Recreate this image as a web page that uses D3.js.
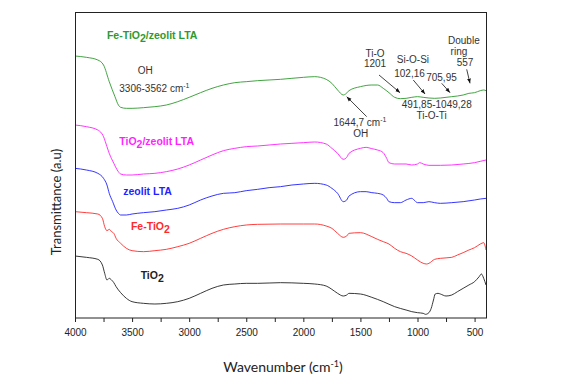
<!DOCTYPE html>
<html>
<head>
<meta charset="utf-8">
<script src="https://cdn.jsdelivr.net/npm/d3@7"></script>
<style>
body { margin: 0; background: #fff; }
svg { display: block; }
</style>
</head>
<body>
<svg></svg>
<script>
// spectra: [wavenumber (cm-1), transmittance (a.u.)]
var feTiO2Zeolit = [[4000,79.2],[3900,78.8],[3800,78.0],[3750,76.5],[3700,71.5],[3650,67.0],[3620,64.5],[3600,63.8],[3550,63.5],[3500,63.5],[3400,63.7],[3300,64.0],[3200,64.5],[3100,65.5],[3000,66.8],[2900,68.2],[2800,69.5],[2700,70.5],[2600,71.2],[2500,71.5],[2400,71.8],[2200,72.2],[2000,72.8],[1900,73.0],[1800,72.2],[1750,71.0],[1700,69.0],[1650,67.5],[1630,67.8],[1600,68.8],[1500,70.0],[1400,70.5],[1350,70.5],[1300,69.5],[1250,68.2],[1200,66.8],[1150,66.4],[1100,66.5],[1050,66.8],[1000,67.0],[950,66.8],[900,66.6],[850,66.5],[800,66.6],[750,66.8],[700,67.0],[650,67.2],[600,67.5],[550,68.0],[500,68.2],[450,68.8],[420,69.0],[400,68.8]];
var tiO2Zeolit = [[4000,58.5],[3900,58.0],[3800,57.0],[3750,55.0],[3720,52.0],[3700,50.0],[3660,47.0],[3630,45.0],[3600,43.8],[3550,43.5],[3500,43.5],[3400,43.8],[3300,44.0],[3200,44.5],[3100,45.3],[3000,46.5],[2900,48.0],[2800,49.5],[2700,50.8],[2600,51.5],[2500,52.0],[2400,52.2],[2300,52.5],[2200,52.8],[2100,53.0],[2000,53.2],[1900,53.4],[1800,52.8],[1750,51.5],[1700,50.0],[1650,48.2],[1620,48.8],[1600,50.0],[1500,51.5],[1450,51.8],[1400,51.4],[1350,51.0],[1300,50.2],[1270,48.5],[1250,47.2],[1200,46.8],[1100,46.8],[1050,46.5],[1000,46.8],[980,47.2],[950,46.8],[900,46.4],[800,46.4],[700,46.5],[600,46.8],[500,47.2],[450,47.6],[400,48.0]];
var zeolitLTA = [[4000,45.5],[3900,45.0],[3800,44.0],[3750,42.5],[3720,40.5],[3700,38.0],[3670,35.5],[3640,33.0],[3620,32.0],[3600,31.5],[3550,31.5],[3500,31.8],[3400,32.2],[3300,32.5],[3200,33.0],[3100,33.5],[3000,34.5],[2900,36.0],[2800,37.2],[2700,38.0],[2600,38.2],[2500,38.8],[2400,39.2],[2300,39.7],[2200,40.0],[2100,40.5],[2000,40.8],[1900,41.0],[1800,40.5],[1750,39.5],[1700,38.0],[1650,35.5],[1620,36.0],[1600,37.2],[1500,38.5],[1450,38.5],[1400,38.2],[1350,38.0],[1300,37.5],[1270,36.5],[1250,35.5],[1200,35.2],[1150,35.2],[1100,36.0],[1050,36.5],[1030,36.0],[1000,35.2],[950,35.2],[900,35.5],[850,35.2],[800,35.0],[700,35.2],[600,35.5],[500,36.0],[450,36.3],[400,36.5]];
var feTiO2 = [[4000,32.5],[3900,32.2],[3800,31.8],[3760,30.5],[3740,28.0],[3720,26.8],[3700,27.2],[3680,26.5],[3660,26.0],[3640,24.5],[3600,23.0],[3550,21.5],[3500,20.8],[3400,20.5],[3300,20.8],[3200,21.2],[3100,22.0],[3000,23.0],[2900,24.5],[2800,26.0],[2700,27.2],[2600,28.0],[2500,28.5],[2400,28.7],[2200,28.8],[2000,28.8],[1900,28.8],[1800,28.2],[1750,27.5],[1700,26.0],[1650,24.8],[1620,25.2],[1600,26.0],[1500,26.2],[1400,25.0],[1350,24.2],[1300,23.5],[1250,22.8],[1200,21.5],[1150,20.5],[1100,20.0],[1050,19.2],[1000,18.0],[950,17.0],[920,16.8],[900,17.0],[850,18.2],[800,18.5],[700,18.8],[650,19.5],[600,20.2],[550,21.0],[500,21.7],[450,22.8],[420,23.2],[400,21.0]];
var tiO2 = [[4000,19.2],[3900,18.8],[3800,18.2],[3760,16.5],[3740,14.0],[3720,12.0],[3700,12.5],[3680,12.0],[3660,11.2],[3640,10.0],[3600,8.2],[3550,6.5],[3500,5.5],[3400,5.0],[3300,4.8],[3200,5.0],[3100,5.5],[3000,6.5],[2900,8.0],[2800,9.5],[2700,10.5],[2600,10.8],[2500,11.0],[2400,11.0],[2200,11.2],[2000,11.0],[1900,10.8],[1800,10.2],[1750,9.2],[1700,8.0],[1650,7.2],[1620,7.5],[1600,8.0],[1500,7.8],[1400,6.8],[1300,5.5],[1200,4.0],[1100,3.0],[1050,2.5],[1000,2.2],[950,2.0],[930,1.7],[900,2.2],[880,3.5],[860,6.0],[845,7.8],[820,8.0],[800,7.8],[750,7.2],[700,7.5],[650,8.5],[600,9.5],[550,10.5],[500,11.5],[460,13.0],[440,13.8],[420,12.5],[400,10.5]];

var seriesNames = ["Fe-TiO2/zeolit LTA", "TiO2/zeolit LTA", "zeolit LTA", "Fe-TiO2", "TiO2"];
var seriesColors = ["#2e9a2e", "#ff1fff", "#1f1fff", "#ff2a2a", "#222222"];
// label anchor for each series, in [wavenumber, transmittance]
var seriesLabelAt = [[3720,84.3],[3612,52.5],[3577,37.5],[3510,27.0],[3425,12.2]];

var xTicks = d3.range(4000, 399, -250);

// band annotations: text lines at [wavenumber, transmittance]
var notes = [
	{t: "OH", at: [3384,73.8], anchor: "middle"},
	{t: "3306-3562 cm", sup: "-1", at: [3612,68.5], anchor: "start"},
	{t: "Ti-O", at: [1372,79.0], anchor: "middle"},
	{t: "1201", at: [1372,76.0], anchor: "middle"},
	{t: "Si-O-Si", at: [1040,77.0], anchor: "middle"},
	{t: "102,16", at: [1070,73.0], anchor: "middle"},
	{t: "705,95", at: [790,71.8], anchor: "middle"},
	{t: "Double", at: [594,82.8], anchor: "middle"},
	{t: "ring", at: [637,79.4], anchor: "middle"},
	{t: "557", at: [584,76.2], anchor: "middle"},
	{t: "491,85-1049,28", at: [832,63.5], anchor: "middle"},
	{t: "Ti-O-Ti", at: [876,60.2], anchor: "middle"},
	{t: "1644,7 cm", sup: "-1", at: [1504,58.2], anchor: "middle"},
	{t: "OH", at: [1498,54.8], anchor: "middle"}
];
// arrows: tail -> tip
var arrows = [
	[[1445,61.0],[1620,67.0]],
	[[1337,73.5],[1153,68.2]],
	[[1037,72.0],[934,67.8]],
	[[788,71.0],[715,68.2]],
	[[569,75.2],[540,71.0]]
];

var width = 581, height = 383;
var svg = d3.select("svg").attr("width", width).attr("height", height);

var x = d3.scaleLinear().domain([4000, 400]).range([75, 486]);
var y = d3.scaleLinear().domain([0.6, 92.1]).range([318, 13]);

var line = d3.line()
	.x(function(d){ return x(d[0]); })
	.y(function(d){ return y(d[1]); })
	.curve(d3.curveMonotoneX);

var allSeries = [feTiO2Zeolit, tiO2Zeolit, zeolitLTA, feTiO2, tiO2];

svg.selectAll("path.spec").data(allSeries).enter()
	.append("path")
	.attr("class", "spec")
	.attr("d", line)
	.attr("fill", "none")
	.attr("stroke", function(d, i){ return seriesColors[i]; })
	.attr("stroke-width", 0.9);

// frame
svg.append("rect")
	.attr("x", 75.5).attr("y", 12.5)
	.attr("width", 411).attr("height", 305.5)
	.attr("fill", "none").attr("stroke", "#222").attr("stroke-width", 1);

// bottom axis
var xAxis = d3.axisBottom(x)
	.tickValues(xTicks)
	.tickSize(4)
	.tickFormat(function(d){ return d % 500 === 0 ? d : ""; });
var gx = svg.append("g").attr("transform", "translate(0,318)").call(xAxis);
gx.select(".domain").remove();
gx.selectAll("line").attr("stroke", "#222");
gx.selectAll("text")
	.attr("y", 11)
	.attr("fill", "#222")
	.style("font-family", "'Liberation Sans', Arial, sans-serif")
	.style("font-size", "10px");

// axis titles
var xt = svg.append("text")
	.attr("x", 283).attr("y", 372)
	.attr("text-anchor", "middle")
	.style("font-family", "Lato, 'Open Sans', sans-serif")
	.style("font-size", "14px")
	.attr("fill", "#222");
xt.append("tspan").text("Wavenumber (cm");
xt.append("tspan").text("-1").attr("dy", -5).style("font-size", "9px");
xt.append("tspan").text(")").attr("dy", 5);

svg.append("text")
	.attr("transform", "translate(61,202) rotate(-90)")
	.attr("text-anchor", "middle")
	.style("font-family", "Lato, 'Open Sans', sans-serif")
	.style("font-size", "13px")
	.attr("fill", "#222")
	.text("Transmittance (a.u)");

// series labels, with subscript 2
seriesNames.forEach(function(name, i){
	var t = svg.append("text")
		.attr("x", x(seriesLabelAt[i][0]))
		.attr("y", y(seriesLabelAt[i][1]))
		.attr("fill", seriesColors[i])
		.style("font-family", "'Liberation Sans', Arial, sans-serif")
		.style("font-weight", "bold")
		.style("font-size", "10.5px");
	var parts = name.split("2");
	parts.forEach(function(p, j){
		if (j > 0) {
			t.append("tspan").text("2").attr("dy", 3).style("font-size", "10.5px");
			t.append("tspan").text(p).attr("dy", -3);
		} else {
			t.append("tspan").text(p);
		}
	});
});

// annotations
notes.forEach(function(n){
	var t = svg.append("text")
		.attr("x", x(n.at[0]))
		.attr("y", y(n.at[1]))
		.attr("text-anchor", n.anchor)
		.attr("fill", "#333")
		.style("font-family", "'Liberation Sans', Arial, sans-serif")
		.style("font-size", "10px");
	t.append("tspan").text(n.t);
	if (n.sup) t.append("tspan").text(n.sup).attr("dy", -4).style("font-size", "7px");
});

svg.append("defs").append("marker")
	.attr("id", "head")
	.attr("viewBox", "0 0 10 10")
	.attr("refX", 10).attr("refY", 5)
	.attr("markerWidth", 6).attr("markerHeight", 6)
	.attr("orient", "auto")
	.append("path")
	.attr("d", "M0,1L10,5L0,9z")
	.attr("fill", "#111");

svg.selectAll("line.arrow").data(arrows).enter()
	.append("line")
	.attr("class", "arrow")
	.attr("x1", function(d){ return x(d[0][0]); })
	.attr("y1", function(d){ return y(d[0][1]); })
	.attr("x2", function(d){ return x(d[1][0]); })
	.attr("y2", function(d){ return y(d[1][1]); })
	.attr("stroke", "#111")
	.attr("stroke-width", 0.8)
	.attr("marker-end", "url(#head)");
</script>
</body>
</html>
